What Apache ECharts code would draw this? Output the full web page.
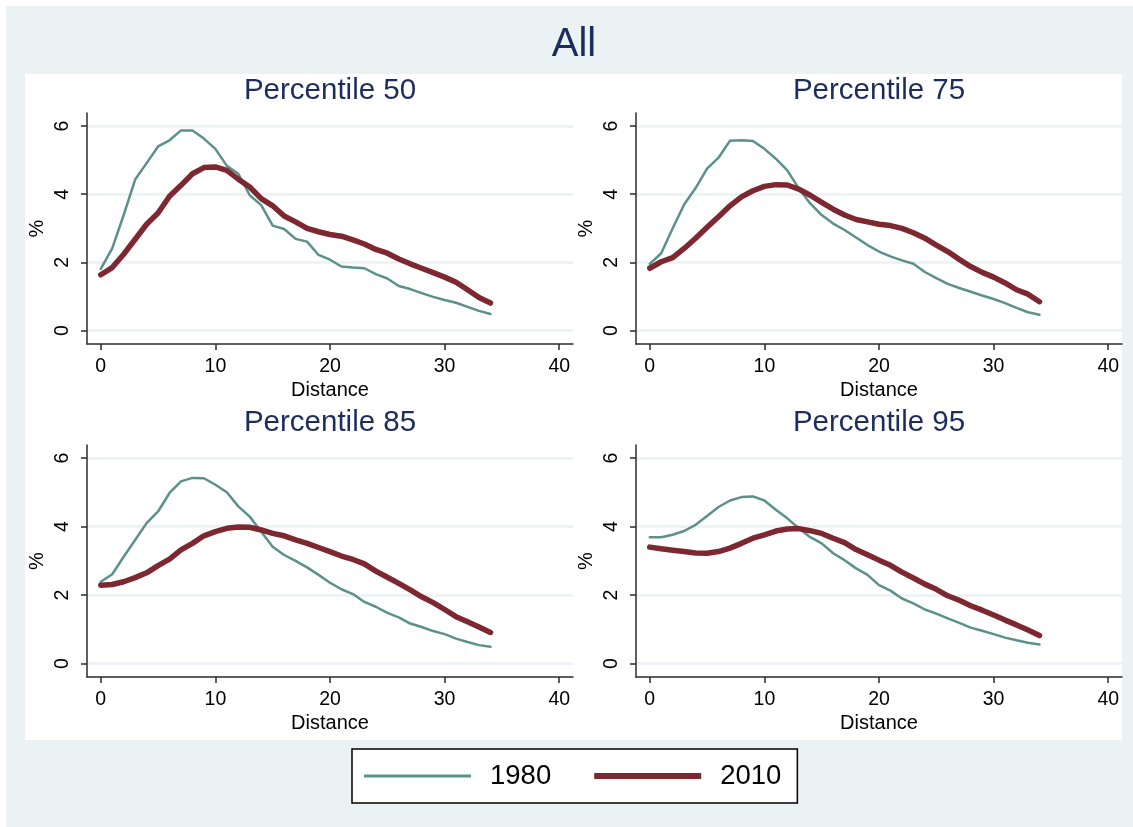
<!DOCTYPE html>
<html>
<head>
<meta charset="utf-8">
<script src="https://cdn.jsdelivr.net/npm/echarts@6/dist/echarts.min.js"></script>
<style>
  html, body { margin: 0; padding: 0; background: #ffffff; }
  #outer { position: absolute; left: 6px; top: 6px; width: 1127px; height: 821px; background: #eaf2f3; }
  #inner { position: absolute; left: 25px; top: 74px; width: 1097px; height: 666px; background: #ffffff; }
  #chart { position: absolute; left: 0; top: 0; width: 1133px; height: 827px; }
</style>
</head>
<body>
<div id="outer"></div>
<div id="inner"></div>
<div id="chart"></div>
<script>
// ---- data ----
const distance = [0,1,2,3,4,5,6,7,8,9,10,11,12,13,14,15,16,17,18,19,20,21,22,23,24,25,26,27,28,29,30,31,32,33,34];
const xTicks = [0, 10, 20, 30, 40];
const yTicks = [0, 2, 4, 6];
const panelTitles = ['Percentile 50', 'Percentile 75', 'Percentile 85', 'Percentile 95'];
const seriesNames = ['1980', '2010'];

const p50_1980 = [1.81,2.41,3.39,4.43,4.91,5.40,5.58,5.87,5.87,5.63,5.33,4.83,4.60,3.97,3.68,3.08,2.98,2.69,2.61,2.22,2.08,1.88,1.85,1.83,1.66,1.53,1.31,1.22,1.10,0.99,0.90,0.82,0.70,0.58,0.49];
const p50_2010 = [1.64,1.85,2.24,2.68,3.12,3.45,3.94,4.26,4.60,4.78,4.80,4.70,4.44,4.21,3.87,3.66,3.36,3.19,3.00,2.90,2.82,2.77,2.66,2.54,2.38,2.27,2.10,1.96,1.83,1.70,1.57,1.42,1.20,0.97,0.81];
const p75_1980 = [1.96,2.27,3.00,3.70,4.18,4.75,5.07,5.57,5.58,5.56,5.33,5.04,4.70,4.17,3.73,3.39,3.14,2.95,2.73,2.51,2.32,2.18,2.06,1.96,1.72,1.54,1.37,1.25,1.14,1.03,0.93,0.81,0.67,0.54,0.47];
const p75_2010 = [1.83,2.02,2.14,2.41,2.71,3.03,3.34,3.66,3.92,4.10,4.23,4.28,4.27,4.15,3.97,3.76,3.56,3.39,3.26,3.19,3.12,3.08,3.00,2.87,2.71,2.51,2.32,2.09,1.88,1.71,1.57,1.40,1.20,1.07,0.85];
const p85_1980 = [2.39,2.61,3.12,3.61,4.10,4.44,4.98,5.32,5.42,5.41,5.22,5.00,4.59,4.29,3.85,3.41,3.17,3.00,2.81,2.59,2.36,2.17,2.03,1.80,1.66,1.48,1.35,1.17,1.07,0.95,0.86,0.73,0.63,0.54,0.49];
const p85_2010 = [2.29,2.31,2.39,2.51,2.65,2.86,3.05,3.32,3.51,3.73,3.85,3.95,3.99,3.98,3.90,3.80,3.73,3.61,3.51,3.39,3.27,3.14,3.04,2.91,2.70,2.52,2.34,2.15,1.95,1.78,1.58,1.37,1.22,1.07,0.91];
const p95_1980 = [3.69,3.69,3.76,3.87,4.05,4.31,4.57,4.76,4.86,4.88,4.76,4.49,4.24,3.95,3.69,3.51,3.22,3.02,2.78,2.59,2.29,2.13,1.90,1.76,1.58,1.46,1.32,1.19,1.05,0.96,0.86,0.76,0.68,0.61,0.56];
const p95_2010 = [3.40,3.35,3.31,3.27,3.23,3.22,3.27,3.37,3.51,3.66,3.76,3.87,3.93,3.94,3.88,3.80,3.66,3.53,3.33,3.18,3.02,2.87,2.67,2.50,2.32,2.17,1.98,1.85,1.69,1.56,1.42,1.27,1.13,0.98,0.82];

const panels = [[p50_1980, p50_2010], [p75_1980, p75_2010], [p85_1980, p85_2010], [p95_1980, p95_2010]];

// ---- styling / layout ----
const FONT = '"Liberation Sans", Arial, Helvetica, sans-serif';
const TEAL = '#5b918a';
const MAROON = '#7d2830';
const NAVY = '#1c2d5c';
const GRIDC = '#eaf2f3';
const AXC = '#2b2b2b';
const gridPos = [
  { left: 87,  top: 113, width: 486, height: 231 },
  { left: 636, top: 113, width: 486, height: 231 },
  { left: 87,  top: 445, width: 486, height: 232 },
  { left: 636, top: 445, width: 486, height: 232 }
];

const chart = echarts.init(document.getElementById('chart'), null, { renderer: 'canvas' });

const titles = [{
  text: 'All', left: 574, top: 25, padding: 0, textAlign: 'center',
  textStyle: { fontFamily: FONT, fontSize: 40, fontWeight: 'normal', color: NAVY }
}];
panelTitles.forEach((t, i) => {
  const g = gridPos[i];
  titles.push({
    text: t, left: g.left + g.width / 2, top: g.top - 37, padding: 0, textAlign: 'center',
    textStyle: { fontFamily: FONT, fontSize: 29.5, fontWeight: 'normal', color: NAVY }
  });
});

const xAxes = [], yAxes = [], series = [];
gridPos.forEach((g, i) => {
  xAxes.push({
    type: 'value', gridIndex: i, min: -1.2, max: 41.2,
    name: 'Distance', nameLocation: 'middle', nameGap: 36,
    nameTextStyle: { fontFamily: FONT, fontSize: 20, color: '#000' },
    axisLine: { onZero: false, lineStyle: { color: AXC, width: 1.5 } },
    axisTick: { show: true, length: 6, customValues: xTicks, lineStyle: { color: AXC, width: 1.5 } },
    axisLabel: { customValues: xTicks, margin: 13, fontFamily: FONT, fontSize: 19.5, color: '#000' },
    splitLine: { show: false }
  });
  yAxes.push({
    type: 'value', gridIndex: i, min: -0.39, max: 6.38,
    name: '%', nameLocation: 'middle', nameGap: 40, nameRotate: 90,
    nameTextStyle: { fontFamily: FONT, fontSize: 20, color: '#000' },
    axisLine: { onZero: false, lineStyle: { color: AXC, width: 1.5 } },
    axisTick: { show: true, length: 6, customValues: yTicks, lineStyle: { color: AXC, width: 1.5 } },
    axisLabel: { customValues: yTicks, rotate: 90, margin: 14, fontFamily: FONT, fontSize: 19.5, color: '#000' },
    splitLine: { show: true, lineStyle: { color: GRIDC, width: 2.5 } }
  });
  panels[i].forEach((vals, k) => {
    series.push({
      type: 'line', name: seriesNames[k], xAxisIndex: i, yAxisIndex: i,
      data: distance.map((d, j) => [d, vals[j]]),
      symbol: 'none', smooth: false, silent: true, animation: false,
      z: k === 0 ? 3 : 4,
      lineStyle: { color: k === 0 ? TEAL : MAROON, width: k === 0 ? 2.5 : 5.5, cap: 'round', join: 'round' },
      itemStyle: { color: k === 0 ? TEAL : MAROON }
    });
  });
});

chart.setOption({
  backgroundColor: 'transparent',
  animation: false,
  title: titles,
  grid: gridPos.map(g => Object.assign({ containLabel: false }, g)),
  xAxis: xAxes,
  yAxis: yAxes,
  legend: {
    show: true,
    left: 352, top: 749,
    padding: [13, 16, 13, 12],
    backgroundColor: '#ffffff', borderColor: '#000000', borderWidth: 1.5, borderRadius: 0,
    itemWidth: 107, itemHeight: 30, itemGap: 43,
    symbolKeepAspect: true,
    selectedMode: false,
    textStyle: { fontFamily: FONT, fontSize: 27.5, color: '#000', padding: [0, 0, 0, 14] },
    data: [
      { name: '1980', icon: 'path://M0,0L107,0L107,3L0,3Z', itemStyle: { color: TEAL, borderWidth: 0 } },
      { name: '2010', icon: 'path://M0,0L107,0L107,6L0,6Z', itemStyle: { color: MAROON, borderWidth: 0 } }
    ]
  },
  series: series
});
</script>
</body>
</html>
